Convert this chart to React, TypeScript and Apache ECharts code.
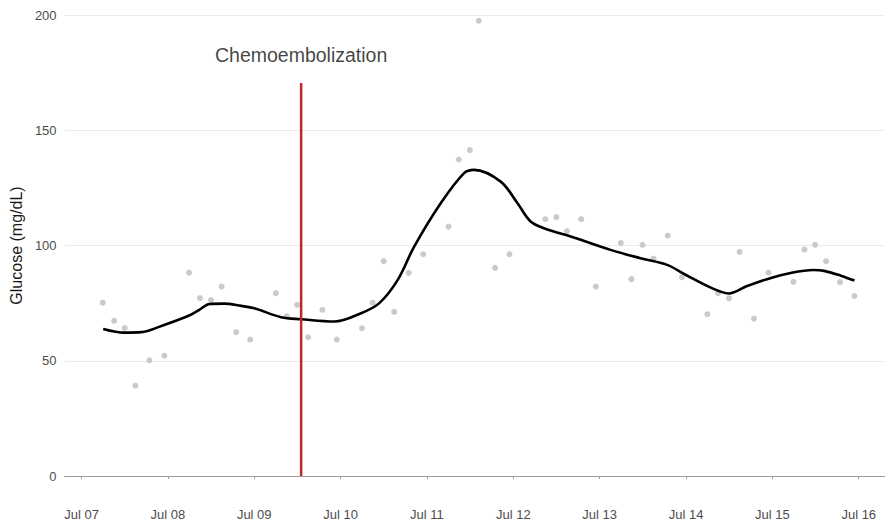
import React, { useEffect, useRef } from "react";
import * as echarts from "echarts";

// x values are days after Jul 07 00:00
const tickLabels = ["Jul 07", "Jul 08", "Jul 09", "Jul 10", "Jul 11", "Jul 12", "Jul 13", "Jul 14", "Jul 15", "Jul 16"];
const tickDays = [0, 1, 2, 3, 4, 5, 6, 7, 8, 9];

const pointDays = [
  0.246, 0.378, 0.5, 0.624, 0.786, 0.959, 1.245, 1.372, 1.499, 1.622, 1.791, 1.953,
  2.25, 2.378, 2.497, 2.624, 2.789, 2.955, 3.248, 3.371, 3.499, 3.621, 3.788, 3.956,
  4.25, 4.369, 4.496, 4.6, 4.789, 4.955, 5.371, 5.498, 5.621, 5.787, 5.956, 6.245,
  6.368, 6.496, 6.623, 6.788, 6.954, 7.247, 7.37, 7.498, 7.62, 7.787, 7.955, 8.244,
  8.371, 8.495, 8.622, 8.784, 8.949,
];
const pointGlucose = [
  75.2, 67.3, 64.2, 39.2, 50.2, 52.2, 88.2, 77.2, 76.3, 82.2, 62.4, 59.2,
  79.3, 69.3, 74.2, 60.2, 72.1, 59.2, 64.1, 75.2, 93.2, 71.2, 88.1, 96.2,
  108.2, 137.3, 141.4, 197.5, 90.3, 96.2, 111.4, 112.3, 106.3, 111.4, 82.2, 101.1,
  85.4, 100.3, 94.3, 104.3, 86.2, 70.2, 79.3, 77.1, 97.2, 68.3, 88.2, 84.2,
  98.2, 100.3, 93.2, 84.1, 78.1,
];

const smoothDays = [
  0.251, 0.5, 0.693, 0.925, 1.233, 1.36, 1.483, 1.65, 1.849, 2.0, 2.312, 2.543, 2.928, 3.236,
  3.448, 3.66, 3.852, 4.161, 4.43, 4.546, 4.854, 5.047, 5.201, 5.355, 5.7, 6.125,
  6.472, 6.781, 7.0, 7.3, 7.5, 7.7, 7.937, 8.2, 8.476, 8.6, 8.8, 8.95,
];
const smoothGlucose = [
  63.8, 62.2, 62.4, 65.1, 69.4, 72.0, 74.6, 74.8, 73.8, 72.8, 68.9, 68.0, 67.0, 70.6,
  75.0, 85.0, 99.5, 118.4, 131.4, 132.8, 127.7, 118.4, 110.4, 107.5, 103.5, 98.1,
  94.5, 91.6, 87.2, 81.5, 79.2, 82.3, 85.4, 88.0, 89.4, 89.0, 86.8, 84.8,
];

const eventDay = 2.543;
const eventTop = 170.5;
const eventLabel = "Chemoembolization";
const eventLabelY = 182.7;

export default function App() {
  const ref = useRef<HTMLDivElement>(null);
  useEffect(() => {
    document.body.style.margin = "0";
    const chart = echarts.init(ref.current!, undefined, { renderer: "svg" });
    const font = "Liberation Sans, Arial, sans-serif";
    chart.setOption({
      animation: false,
      backgroundColor: "#ffffff",
      grid: { left: 63, right: 0, top: 15, bottom: 53, containLabel: false },
      xAxis: {
        type: "value",
        min: -0.196,
        max: 9.304,
        offset: 23,
        axisLine: { show: true, lineStyle: { color: "#9a9a9a", width: 1 } },
        axisTick: { show: true, length: 3, lineStyle: { color: "#9a9a9a" }, customValues: tickDays },
        axisLabel: {
          customValues: tickDays,
          formatter: (v: number) => tickLabels[Math.round(v)] ?? "",
          color: "#4d4d4d",
          fontSize: 13,
          fontFamily: font,
          margin: 9,
        },
        splitLine: { show: false },
      },
      yAxis: {
        type: "value",
        min: 0,
        max: 200,
        interval: 50,
        name: "Glucose (mg/dL)",
        nameLocation: "middle",
        nameGap: 37,
        nameTextStyle: { color: "#1a1a1a", fontSize: 16, fontFamily: font },
        axisLine: { show: false },
        axisTick: { show: false },
        axisLabel: { color: "#4d4d4d", fontSize: 13, fontFamily: font, margin: 8 },
        splitLine: { lineStyle: { color: "#ebebeb", width: 1 } },
      },
      series: [
        {
          type: "scatter",
          data: pointDays.map((d, i) => [d, pointGlucose[i]]),
          symbolSize: 6,
          itemStyle: { color: "#bdbdbd" },
          z: 2,
        },
        {
          type: "line",
          data: smoothDays.map((d, i) => [d, smoothGlucose[i]]),
          smooth: 0.35,
          showSymbol: false,
          lineStyle: { color: "#000000", width: 2.6 },
          z: 3,
        },
        {
          type: "line",
          data: [
            [eventDay, 0],
            [eventDay, eventTop],
          ],
          showSymbol: false,
          lineStyle: { color: "#c0272d", width: 2.5 },
          z: 4,
        },
        {
          type: "scatter",
          data: [[eventDay, eventLabelY]],
          symbolSize: 0,
          label: {
            show: true,
            position: "inside",
            formatter: eventLabel,
            color: "#111111",
            fontSize: 19.5,
            fontFamily: font,
          },
          z: 5,
        },
      ],
    });
    return () => chart.dispose();
  }, []);
  return <div ref={ref} style={{ width: 885, height: 529 }} />;
}
